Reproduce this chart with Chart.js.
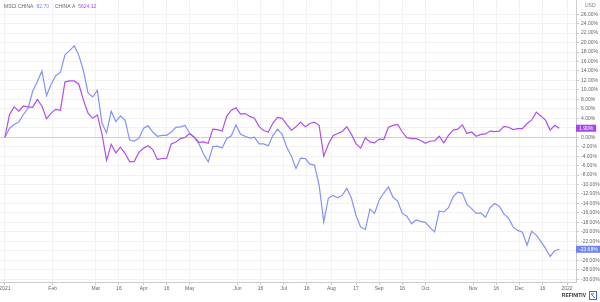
<!DOCTYPE html>
<html>
<head>
<meta charset="utf-8">
<script src="https://cdn.jsdelivr.net/npm/chart.js@4"></script>
<style>
  html, body { margin: 0; padding: 0; background: #fff; }
  #wrap { width: 600px; height: 302px; }
</style>
</head>
<body>
<div id="wrap"><canvas id="myChart" width="600" height="302"></canvas></div>
<script>
'use strict';

// one sample every 3 calendar days starting 1 Jan 2021 (day 0)
const stepDays = 3;

const msciChina = [
    0, 1.9, 2.7, 3.2, 4.8, 6.1, 9.7, 11.7, 14.0, 8.8,
    11.2, 13.0, 13.7, 17.4, 18.3, 19.3, 17.3, 14.0, 9.3, 8.5,
    9.9, 3.0, 0.9, 5.5, 3.3, 4.5, 3.6, -0.6, -0.8, -0.2,
    1.9, 2.4, 1.1, 0.2, 0.4, 0.4, 1.1, 2.1, 2.2, 2.5,
    0.8, -0.1, -1.4, -3.6, -5.2, -2.0, -1.9, -2.3, -0.3, 0.3,
    2.6, 0.6, 0.2, -0.2, 0, -1.4, -1.4, -1.8, 0.4, 1.7,
    0.6, -2.1, -4.0, -6.6, -4.4, -4.5, -5.7, -5.9, -10.1, -17.9,
    -12.9, -12.3, -12.8, -12.3, -10.8, -12.9, -16.6, -19.0, -19.5, -15.2,
    -16.1, -13.3, -11.8, -10.5, -12.7, -13.5, -16.1, -16.7, -18.3, -17.5,
    -17.8, -18.0, -19.1, -20.0, -15.6, -15.8, -14.9, -12.6, -11.6, -11.8,
    -14.2, -15.1, -16.1, -16.0, -16.9, -14.9, -14.0, -14.6, -16.2, -17.1,
    -19.0, -19.7, -20.1, -22.8, -19.9, -20.7, -22.0, -23.5, -25.2, -24.0,
    -23.68,
];

const chinaA = [
    0, 4.8, 6.4, 5.5, 6.6, 6.4, 6.3, 8.0, 6.6, 3.9,
    5.1, 5.9, 5.7, 11.7, 11.9, 11.9, 11.2, 7.8, 5.1, 4.0,
    4.7, 0.7, -4.9, -1.5, -3.3, -2.1, -3.4, -5.2, -5.1, -3.2,
    -2.3, -1.8, -2.6, -4.7, -4.5, -4.5, -1.4, -1.0, -0.3, 0,
    0.8, 0, -1.1, -1.0, -1.3, 1.7, 1.6, 1.3, 4.4, 5.7,
    6.2, 4.9, 5.0, 4.4, 4.0, 2.3, 1.4, 1.1, 3.0, 4.2,
    4.0, 2.7, 1.5, 2.2, 3.2, 2.2, 2.9, 3.2, 2.5, -4.0,
    -1.5, 0.3, 0.8, 1.2, 2.2, 0.6, -1.4, -2.3, -0.1, -1.0,
    -1.2, -0.4, -0.5, 2.1, 2.5, 2.7, 1.1, -0.1, -0.3, -0.3,
    -0.7, -1.3, -0.8, -0.8, 0.2, -1.2, 0.4, 1.5, 1.7, 2.6,
    0.8, 1.1, 0.2, 0.6, 0.7, 1.3, 1.2, 1.3, 2.3, 2.1,
    1.6, 1.8, 1.8, 2.9, 3.6, 5.3, 4.5, 3.6, 1.5, 2.5,
    1.9,
];

const xTickDays = [0, 31, 59, 74, 90, 105, 120, 151, 166, 181, 196, 212, 228, 243, 258, 273, 304, 319, 334, 349, 365];
const xTickLabels = ['2021', 'Feb', 'Mar', '16', 'Apr', '16', 'May', 'Jun', '16', 'Jul', '16', 'Aug', '17', 'Sep', '16', 'Oct', 'Nov', '16', 'Dec', '16', '2022'];

const yTicks = [];
for (let v = -30; v <= 26; v += 2) yTicks.push(v);

const legendItems = [
    { name: 'MSCI CHINA', value: '82.70', color: '#7585f2' },
    { name: 'CHINA A', value: '5624.12', color: '#b04be8' },
];

const blue = '#8393f6';
const purple = '#b24ee9';
const font = 'Liberation Sans, Arial, sans-serif';

const toPoints = (arr) => arr.map((v, i) => ({ x: i * stepDays, y: v }));

const overlay = {
    id: 'overlay',
    afterDraw(chart) {
        const c = chart.ctx;
        const y = chart.scales.y;
        const area = chart.chartArea;
        c.save();
        // legend
        c.font = '5px ' + font;
        c.textBaseline = 'middle';
        let lx = 4;
        legendItems.forEach((it) => {
            c.fillStyle = '#666';
            c.fillText(it.name, lx, 7);
            lx += c.measureText(it.name).width + 3;
            c.fillStyle = it.color;
            c.fillText(it.value, lx, 7);
            lx += c.measureText(it.value).width + 6;
        });
        // currency
        c.fillStyle = '#777';
        c.fillText('USD', area.right + 9, 6);
        // last value boxes
        const last = [
            { v: chinaA[chinaA.length - 1], color: '#a646e6' },
            { v: msciChina[msciChina.length - 1], color: '#6f82f2' },
        ];
        last.forEach((l) => {
            const py = y.getPixelForValue(l.v);
            const txt = l.v.toFixed(2) + '%';
            c.font = '5px ' + font;
            const w = c.measureText(txt).width + 6;
            c.fillStyle = l.color;
            c.fillRect(area.right, py - 3.5, w, 7);
            c.fillStyle = '#fff';
            c.textAlign = 'left';
            c.fillText(txt, area.right + 3, py + 0.3);
        });
        // logo
        c.font = 'bold 5px ' + font;
        c.fillStyle = '#333';
        c.textAlign = 'right';
        c.fillText('REFINITIV', 586, 296);
        c.strokeStyle = '#3f6ae8';
        c.lineWidth = 1;
        c.strokeRect(589.5, 291.5, 7, 8);
        c.beginPath();
        c.moveTo(591, 294);
        c.lineTo(595, 298);
        c.moveTo(591, 294);
        c.lineTo(594, 294);
        c.stroke();
        c.restore();
    },
};

const myChart = new Chart(document.getElementById('myChart'), {
    type: 'line',
    data: {
        datasets: [
            {
                label: 'CHINA A',
                data: toPoints(chinaA),
                borderColor: purple,
                borderWidth: 1.2,
                pointRadius: 0,
                tension: 0,
            },
            {
                label: 'MSCI CHINA',
                data: toPoints(msciChina),
                borderColor: blue,
                borderWidth: 1.2,
                pointRadius: 0,
                tension: 0,
            },
        ],
    },
    options: {
        responsive: false,
        animation: false,
        layout: { padding: 0 },
        plugins: {
            legend: { display: false },
            tooltip: { enabled: false },
        },
        scales: {
            x: {
                type: 'linear',
                min: -3.2,
                max: 370.8,
                afterBuildTicks: (scale) => {
                    scale.ticks = xTickDays.map((d) => ({ value: d }));
                },
                afterFit: (scale) => {
                    scale.height = 20;
                    scale.paddingLeft = 0;
                    scale.paddingRight = 0;
                },
                grid: {
                    color: '#f2f2f2',
                    tickColor: '#cccccc',
                    tickLength: 3,
                },
                border: { color: '#cccccc' },
                ticks: {
                    autoSkip: false,
                    maxRotation: 0,
                    padding: 1,
                    color: '#666',
                    font: { family: font, size: 5 },
                    callback: (v) => {
                        const i = xTickDays.indexOf(v);
                        return i >= 0 ? xTickLabels[i] : '';
                    },
                },
            },
            y: {
                position: 'right',
                min: -30.6,
                max: 29,
                afterBuildTicks: (scale) => {
                    scale.ticks = yTicks.map((v) => ({ value: v }));
                },
                afterFit: (scale) => {
                    scale.width = 24;
                    scale.paddingTop = 0;
                    scale.paddingBottom = 0;
                },
                grid: {
                    color: (ctx) => (ctx.tick && ctx.tick.value === 0 ? '#d0d0d0' : '#f2f2f2'),
                    tickColor: '#cccccc',
                    tickLength: 3,
                },
                border: { color: '#cccccc' },
                ticks: {
                    padding: 2,
                    color: '#666',
                    font: { family: font, size: 5 },
                    callback: (v) => v.toFixed(2) + '%',
                },
            },
        },
    },
    plugins: [overlay],
});
</script>
</body>
</html>
